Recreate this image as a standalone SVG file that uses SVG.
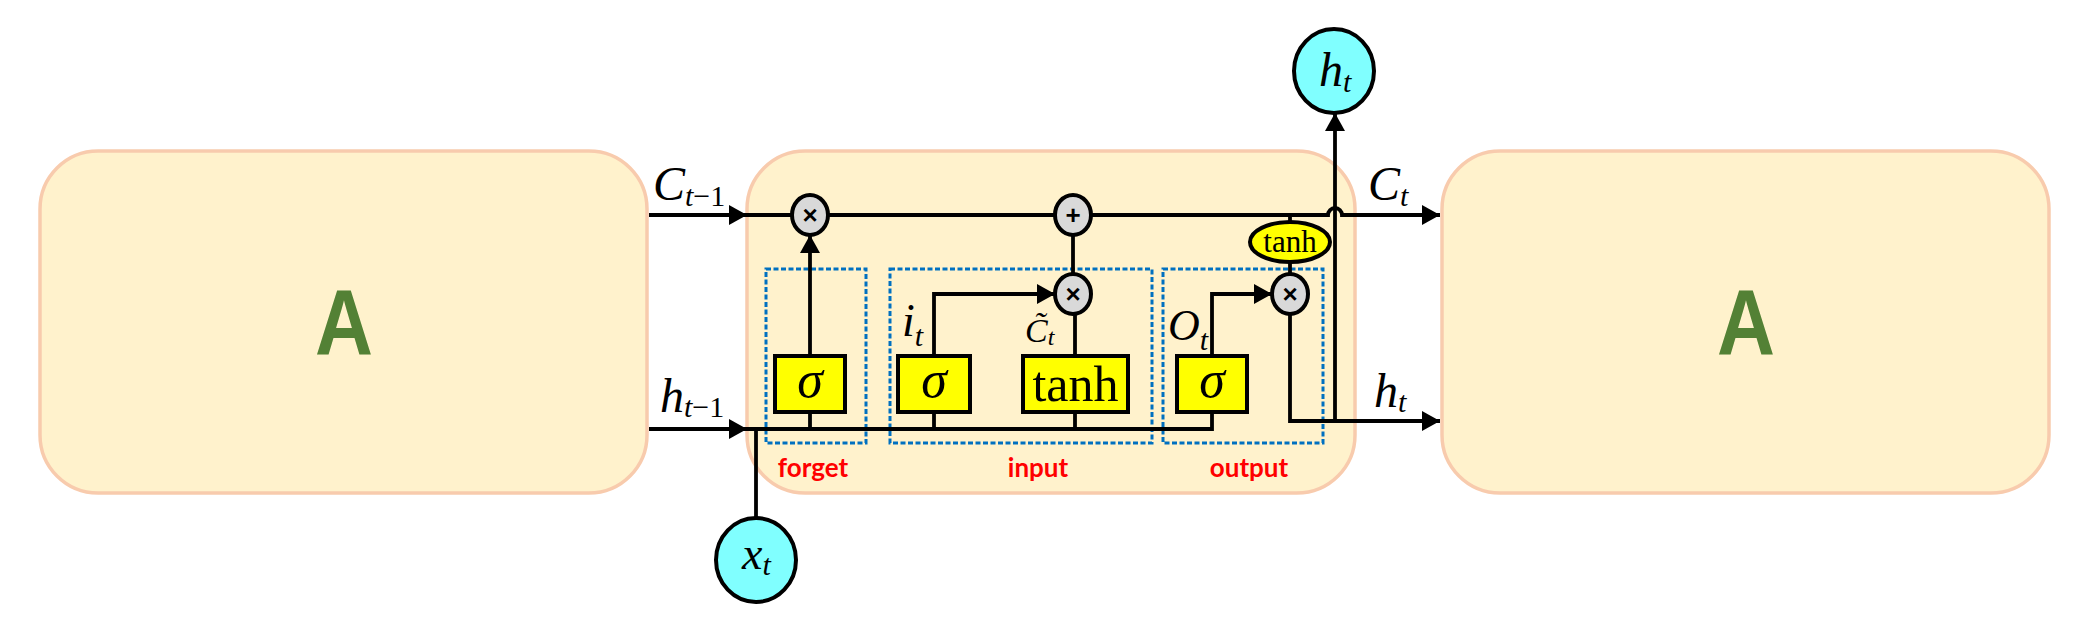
<svg xmlns="http://www.w3.org/2000/svg" width="2090" height="643" viewBox="0 0 2090 643">
<defs>
<marker id="arr" markerUnits="userSpaceOnUse" markerWidth="20" markerHeight="20" refX="18" refY="10" orient="auto"><path d="M0,0 L18,10 L0,20 z" fill="#000"/></marker>
</defs>
<style>
.cell{fill:#FFF2CC;stroke:#F8CBAD;stroke-width:3.5}
.A{font-family:"Liberation Sans",Arial,sans-serif;font-weight:bold;font-size:93px;fill:#538135;text-anchor:middle}
.ln{fill:none;stroke:#000;stroke-width:3.8}
.op{fill:#D9D9D9;stroke:#000;stroke-width:4}
.gate{fill:#FFFF00;stroke:#000;stroke-width:4}
.io{fill:#80FFFF;stroke:#000;stroke-width:4}
.dot{fill:none;stroke:#0070C0;stroke-width:3;stroke-dasharray:5 2.5}
.m{font-family:"Liberation Serif","Times New Roman",serif;font-style:italic;fill:#000}
.r{font-family:"Liberation Serif","Times New Roman",serif;fill:#000}
.lab{font-family:Lato,"Liberation Sans",sans-serif;font-weight:bold;font-size:26px;fill:#FF0000;text-anchor:middle}
.sym{font-family:"Liberation Sans",Arial,sans-serif;font-weight:bold;font-size:26px;text-anchor:middle;fill:#000}
</style>
<rect width="2090" height="643" fill="#fff"/>

<g id="cellPrev">
<rect class="cell" x="40" y="151" width="607" height="342" rx="58"/>
<text class="A" x="344" y="354" textLength="58" lengthAdjust="spacingAndGlyphs">A</text>
</g>
<g id="cell">
<rect class="cell" x="747" y="151" width="608" height="342" rx="58"/>
</g>
<g id="cellNext">
<rect class="cell" x="1442" y="151" width="607" height="342" rx="58"/>
<text class="A" x="1746" y="354" textLength="58" lengthAdjust="spacingAndGlyphs">A</text>
</g>

<g id="gateGroups">
<rect class="dot" x="766" y="269" width="100" height="174"/>
<rect class="dot" x="890" y="269" width="262" height="174"/>
<rect class="dot" x="1163" y="269" width="160" height="174"/>
<text class="lab" x="813" y="477">forget</text>
<text class="lab" x="1038" y="477">input</text>
<text class="lab" x="1249" y="477">output</text>
</g>

<g id="connectors">
<path class="ln" d="M649,215 H747" marker-end="url(#arr)"/>
<path class="ln" d="M649,429 H747" marker-end="url(#arr)"/>
<path class="ln" d="M747,215 H1328 a7,7 0 0 1 14,0 H1440" marker-end="url(#arr)"/>
<path class="ln" d="M810,356 V235" marker-end="url(#arr)"/>
<path class="ln" d="M1073,235 V274"/>
<path class="ln" d="M934,356 V294 H1055" marker-end="url(#arr)"/>
<path class="ln" d="M1075,356 V314"/>
<path class="ln" d="M747,429 H1212 V412 M810,429 V412 M934,429 V412 M1075,429 V412"/>
<path class="ln" d="M1212,356 V294 H1272" marker-end="url(#arr)"/>
<path class="ln" d="M1290,215 V222 M1290,262 V274"/>
<path class="ln" d="M1290,314 V421 H1440" marker-end="url(#arr)"/>
<path class="ln" d="M1335,421 V113" marker-end="url(#arr)"/>
<path class="ln" d="M756,429 V518"/>
</g>

<g id="labels">
<text class="m" x="653" y="200" font-size="48">C<tspan font-size="30" dy="6">t</tspan><tspan font-style="normal" font-size="30">−1</tspan></text>
<text class="m" x="660" y="412" font-size="48">h<tspan font-size="30" dy="5">t</tspan><tspan font-style="normal" font-size="30">−1</tspan></text>
<text class="m" x="1368" y="200" font-size="48">C<tspan font-size="30" dy="6">t</tspan></text>
<text class="m" x="1374" y="407" font-size="48">h<tspan font-size="30" dy="5">t</tspan></text>
<text class="m" x="902" y="336" font-size="46">i<tspan font-size="30" dy="10">t</tspan></text>
<text class="m" x="1025" y="342" font-size="34">C̃<tspan font-size="24" dy="3">t</tspan></text>
<text class="m" x="1168" y="340" font-size="44">O<tspan font-size="30" dy="10">t</tspan></text>
</g>

<g id="forgetMul"><ellipse class="op" cx="810" cy="215" rx="18" ry="20"/><text class="sym" x="810" y="224">×</text></g>
<g id="add"><ellipse class="op" cx="1073" cy="215" rx="18" ry="20"/><text class="sym" x="1073" y="224">+</text></g>
<g id="inputMul"><ellipse class="op" cx="1073" cy="294" rx="18" ry="20"/><text class="sym" x="1073" y="303">×</text></g>
<g id="outputMul"><ellipse class="op" cx="1290" cy="294" rx="18" ry="20"/><text class="sym" x="1290" y="303">×</text></g>
<g id="tanhC"><ellipse class="gate" cx="1290" cy="242" rx="40" ry="20"/><text class="r" x="1290" y="252" font-size="31" text-anchor="middle">tanh</text></g>

<g id="forgetSigma"><rect class="gate" x="775" y="356" width="70" height="56"/><text class="m" x="810" y="397" font-size="52" text-anchor="middle">σ</text></g>
<g id="inputSigma"><rect class="gate" x="898" y="356" width="72" height="56"/><text class="m" x="934" y="397" font-size="52" text-anchor="middle">σ</text></g>
<g id="tanhGate"><rect class="gate" x="1023" y="356" width="105" height="56"/><text class="r" x="1075.5" y="401" font-size="50" text-anchor="middle">tanh</text></g>
<g id="outputSigma"><rect class="gate" x="1177" y="356" width="70" height="56"/><text class="m" x="1212" y="397" font-size="52" text-anchor="middle">σ</text></g>

<g id="ht"><ellipse class="io" cx="1334" cy="71" rx="40" ry="42"/><text class="m" x="1319" y="86" font-size="48">h<tspan font-size="30" dy="6">t</tspan></text></g>
<g id="xt"><ellipse class="io" cx="756" cy="560" rx="40" ry="42"/><text class="m" x="742" y="569" font-size="46">x<tspan font-size="30" dy="6">t</tspan></text></g>
</svg>
